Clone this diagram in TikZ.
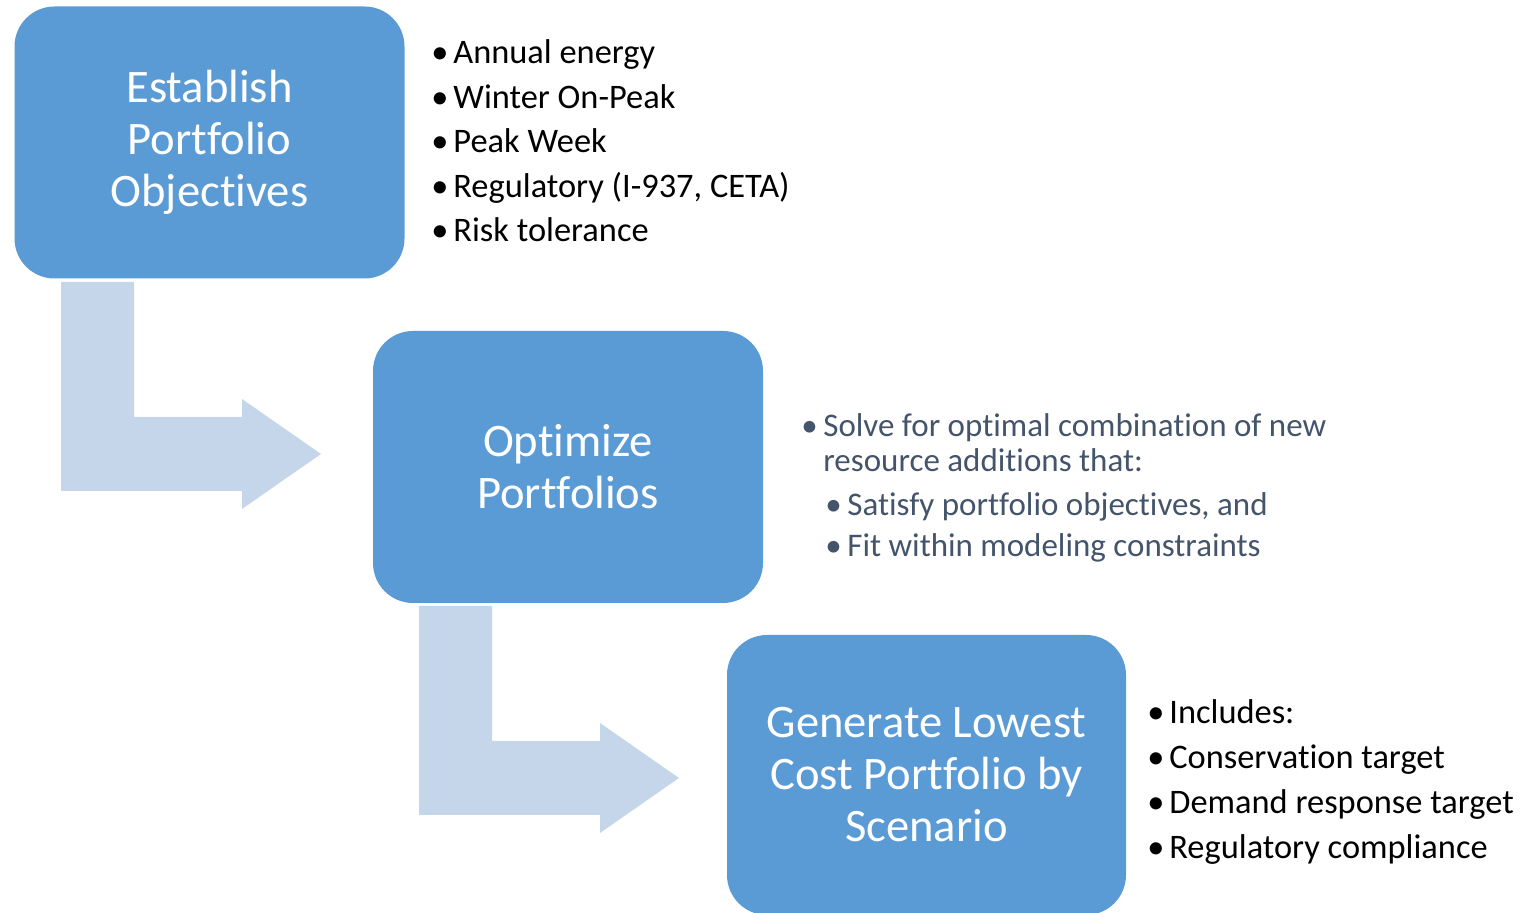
\documentclass[tikz,border=0pt]{standalone}
\usepackage{fontspec}
\setmainfont{Carlito}[Ligatures={NoCommon,NoRare}]
\usepackage{tikz}

\definecolor{boxblue}{HTML}{5B9BD5}
\definecolor{arrowblue}{HTML}{C5D5EA}
\definecolor{slate}{HTML}{44546A}
\newcommand{\bul}{\makebox[11pt][l]{\textbullet}}

\begin{document}
\begin{tikzpicture}[x=0.5pt, y=-0.5pt,
    stage/.style={fill=boxblue, rounded corners=20pt, minimum width=195pt, minimum height=136pt,
                  align=center, text=white, font=\fontsize{23.3}{26}\selectfont},
    item/.style={anchor=base west, inner sep=0pt, font=\fontsize{17.2}{19}\selectfont},
    subitem/.style={item, text=slate, font=\fontsize{16.5}{18}\selectfont},
    bentarrow/.style={fill=arrowblue}]
    \useasboundingbox (0,0) rectangle (1522,913);
    % bent arrows between the stages
    \foreach \dx/\dy in {0/0, 358/324}
        \fill[bentarrow, shift={(\dx,\dy)}] (61,282) -- (134,282) -- (134,417) -- (242,417) -- (242,399)
            -- (321,454) -- (242,509) -- (242,491) -- (61,491) -- cycle;
    % stages
    \node[stage] (objectives) at (209.5,142.5) {Establish\\Portfolio\\Objectives};
    \node[stage] (optimize) at (568,467) {Optimize\\Portfolios};
    \node[stage, minimum width=199.5pt, minimum height=140pt] (generate) at (926.5,775)
        {Generate Lowest\\Cost Portfolio by\\Scenario};
    % objectives
    \foreach \t [count=\i] in {Annual energy, Winter On-Peak, Peak Week, {Regulatory (I-937, CETA)}, Risk tolerance}
        \node[item] (need\i) at (431, {19.5+44.5*\i}) {\bul\t};
    % optimization
    \node[subitem] (solve) at (801,437) {\bul Solve for optimal combination of new};
    \node[subitem] (solvecont) at (823,472) {resource additions that:};
    \node[subitem] (satisfy) at (825,516) {\bul Satisfy portfolio objectives, and};
    \node[subitem] (fit) at (825,557) {\bul Fit within modeling constraints};
    % lowest cost portfolio
    \foreach \t [count=\i] in {Includes:, Conservation target, Demand response target, Regulatory compliance}
        \node[item] (incl\i) at (1147, {679+44.8*\i}) {\bul\t};
\end{tikzpicture}
\end{document}
